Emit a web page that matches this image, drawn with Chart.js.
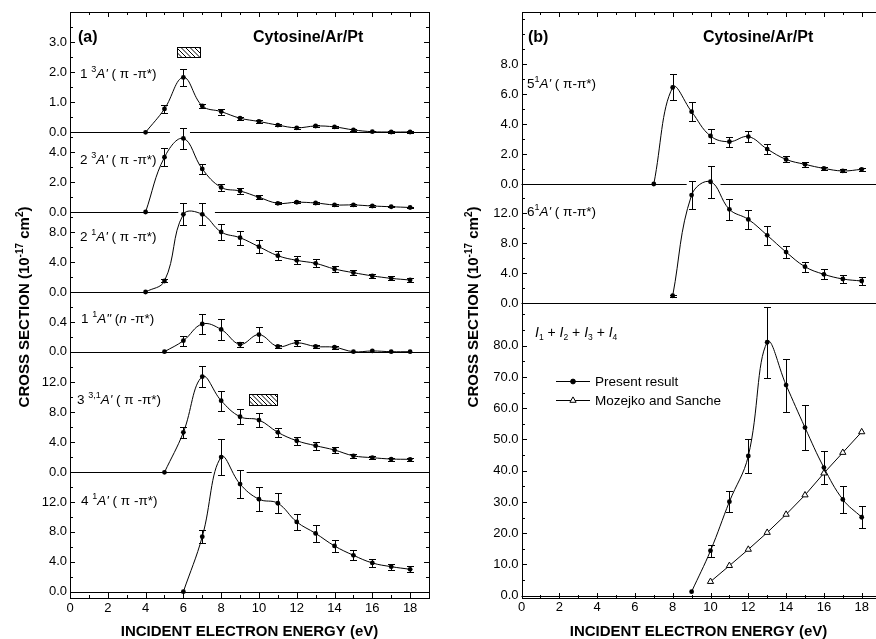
<!DOCTYPE html>
<html>
<head>
<meta charset="utf-8">
<script src="https://cdn.jsdelivr.net/npm/chart.js@4.4.0/dist/chart.umd.min.js"></script>
<style>
html, body { margin: 0; padding: 0; background: #fff; overflow: hidden; }
#wrap { position: relative; width: 876px; height: 639px; overflow: hidden; background: #fff; }
#wrap canvas { position: absolute; top: 0; }
</style>
</head>
<body>
<div id="wrap">
  <canvas id="chartA" width="440" height="639" style="left:0"></canvas>
  <canvas id="chartB" width="450" height="639" style="left:440px"></canvas>
</div>
<script>
// x axis labels (eV)
const xTicks = [0, 2, 4, 6, 8, 10, 12, 14, 16, 18];

// ---- (a) ----
// 1 3A' (pi-pi*)
const energy13A = [4, 5, 6, 7, 8, 9, 10, 11, 12, 13, 14, 15, 16, 17, 18];
const cs13A  = [0, 0.78, 1.83, 0.88, 0.69, 0.47, 0.36, 0.24, 0.15, 0.21, 0.18, 0.08, 0.02, 0.01, 0.01];
const err13A = [0, 0.14, 0.28, 0.07, 0.10, 0.05, 0.04, 0.04, 0.03, 0.04, 0.03, 0.03, 0.02, 0.02, 0.02];
const ticks13A = [0, 1, 2, 3];

// 2 3A' (pi-pi*)
const energy23A = [4, 5, 6, 7, 8, 9, 10, 11, 12, 13, 14, 15, 16, 17, 18];
const cs23A  = [0, 3.65, 4.9, 2.87, 1.64, 1.4, 0.98, 0.58, 0.65, 0.6, 0.47, 0.47, 0.4, 0.35, 0.3];
const err23A = [0, 0.6, 0.71, 0.32, 0.24, 0.2, 0.12, 0.06, 0.06, 0.06, 0.05, 0.05, 0.05, 0.05, 0.05];
const ticks23A = [0, 2, 4];

// 2 1A' (pi-pi*)
const energy21A = [4, 5, 6, 7, 8, 9, 10, 11, 12, 13, 14, 15, 16, 17, 18];
const cs21A  = [0, 1.47, 10.36, 10.36, 8.0, 7.24, 6.04, 4.84, 4.22, 3.82, 3.07, 2.58, 2.15, 1.82, 1.6];
const err21A = [0, 0.2, 1.45, 1.45, 1.1, 0.96, 0.9, 0.58, 0.53, 0.53, 0.4, 0.3, 0.3, 0.25, 0.25];
const ticks21A = [0, 4, 8];

// 1 1A" (n-pi*)
const energy11A = [5, 6, 7, 8, 9, 10, 11, 12, 13, 14, 15, 16, 17, 18];
const cs11A  = [0, 0.148, 0.373, 0.30, 0.10, 0.23, 0.07, 0.12, 0.07, 0.06, 0.0, 0.01, 0.0, 0.0];
const err11A = [0, 0.07, 0.14, 0.14, 0.03, 0.1, 0.02, 0.04, 0.02, 0.02, 0, 0, 0, 0];
const ticks11A = [0, 0.4];

// 3 3,1A' (pi-pi*)
const energy331A = [5, 6, 7, 8, 9, 10, 11, 12, 13, 14, 15, 16, 17, 18];
const cs331A  = [0, 5.33, 12.75, 9.55, 7.41, 6.97, 5.33, 4.21, 3.55, 2.97, 2.2, 1.95, 1.77, 1.73];
const err331A = [0, 0.73, 1.44, 1.33, 1.0, 0.96, 0.6, 0.53, 0.53, 0.35, 0.25, 0.2, 0.2, 0.2];
const ticks331A = [0, 4, 8, 12];

// 4 1A' (pi-pi*)
const energy41A = [6, 7, 8, 9, 10, 11, 12, 13, 14, 15, 16, 17, 18];
const cs41A  = [0, 7.36, 18.0, 14.4, 12.37, 11.83, 9.33, 7.8, 6.12, 4.87, 3.85, 3.35, 3.0];
const err41A = [0, 0.83, 2.45, 1.9, 1.6, 1.34, 1.1, 1.1, 0.8, 0.65, 0.5, 0.4, 0.4];
const ticks41A = [0, 4, 8, 12];

// ---- (b) ----
// 5 1A' (pi-pi*)
const energy51A = [7, 8, 9, 10, 11, 12, 13, 14, 15, 16, 17, 18];
const cs51A  = [0, 6.44, 4.82, 3.2, 2.82, 3.16, 2.33, 1.64, 1.31, 1.04, 0.87, 0.98];
const err51A = [0, 0.87, 0.63, 0.44, 0.33, 0.37, 0.33, 0.2, 0.15, 0.12, 0.1, 0.1];
const ticks51A = [0, 2, 4, 6, 8];

// 6 1A' (pi-pi*)
const energy61A = [8, 9, 10, 11, 12, 13, 14, 15, 16, 17, 18];
const cs61A  = [1.0, 14.38, 16.15, 12.48, 11.15, 9.03, 6.81, 4.86, 3.85, 3.23, 2.96];
const err61A = [0.15, 1.88, 2.15, 1.37, 1.28, 1.26, 0.84, 0.66, 0.66, 0.5, 0.5];
const ticks61A = [0, 4, 8, 12];

// I1 + I2 + I3 + I4
const energySum = [9, 10, 11, 12, 13, 14, 15, 16, 17, 18];
const csSum  = [1.28, 14.4, 30.1, 44.7, 81.1, 67.4, 53.8, 41.0, 30.8, 25.1];
const errSum = [0, 1.87, 3.47, 5.3, 11.4, 8.5, 7.2, 5.3, 4.3, 3.5];
const energyMS = [10, 11, 12, 13, 14, 15, 16, 17, 18];
const csMS = [4.5, 9.6, 14.8, 20.2, 26.0, 32.2, 39.2, 45.8, 52.4];
const ticksSum = [0, 10, 20, 30, 40, 50, 60, 70, 80];

// hatched energy markers (eV, cross section)
const hatchX13A = [5.68, 6.88], hatchY13A = [2.5, 2.85];
const hatchX331A = [9.49, 10.93], hatchY331A = [8.97, 10.4];

const FONT = '"Liberation Sans", Arial, Helvetica, sans-serif';
const F = (size, style) => (style ? style + ' ' : '') + size + 'px ' + FONT;
Chart.defaults.font.family = FONT;
Chart.defaults.color = '#000';

// panel layout: axis range, stack weight, gaps in the zero line
const panelsA = [
  { id: 'p1', energy: energy13A, cs: cs13A, err: err13A, ticks: ticks13A, min: 0, max: 4.0, weight: 120, gaps: [[5.29, 6.35]] },
  { id: 'p2', energy: energy23A, cs: cs23A, err: err23A, ticks: ticks23A, min: 0, max: 5.31, weight: 79.7, gaps: [[5.73, 7.67]] },
  { id: 'p3', energy: energy21A, cs: cs21A, err: err21A, ticks: ticks21A, min: 0, max: 10.67, weight: 80 },
  { id: 'p4', energy: energy11A, cs: cs11A, err: err11A, ticks: ticks11A, min: 0, max: 0.804, weight: 59.7 },
  { id: 'p5', energy: energy331A, cs: cs331A, err: err331A, ticks: ticks331A, min: 0, max: 16.08, weight: 120.6, gaps: [[7.5, 9.35]] },
  { id: 'p6', energy: energy41A, cs: cs41A, err: err41A, ticks: ticks41A, min: -0.88, max: 15.97, weight: 126 }
];
const panelsB = [
  { id: 'q1', energy: energy51A, cs: cs51A, err: err51A, ticks: ticks51A, min: 0, max: 11.45, weight: 171.7, gaps: [[8.74, 10.53]] },
  { id: 'q2', energy: energy61A, cs: cs61A, err: err61A, ticks: ticks61A, min: 0, max: 15.85, weight: 119.3 },
  { id: 'q3', energy: energySum, cs: csSum, err: errSum, ticks: ticksSum, min: -0.58, max: 93.57, weight: 294.2 }
];

function snap(v) { return Math.round(v) + 0.5; }

function runsWidth(ctx, runs) {
  let w = 0;
  runs.forEach(r => { ctx.font = r.font; w += ctx.measureText(r.t).width; });
  return w;
}

function drawRuns(ctx, item) {
  ctx.save();
  ctx.translate(item.x, item.y);
  if (item.rot) ctx.rotate(-Math.PI / 2);
  let x = item.align === 'center' ? -runsWidth(ctx, item.runs) / 2 : 0;
  ctx.fillStyle = '#000';
  ctx.textAlign = 'left';
  ctx.textBaseline = 'alphabetic';
  item.runs.forEach(r => {
    ctx.font = r.font;
    ctx.fillText(r.t, x, r.dy || 0);
    x += ctx.measureText(r.t).width;
  });
  ctx.restore();
}

function stateRuns(num, sup, letter, tail) {
  return [
    { t: num, font: F(13.5) },
    { t: sup, font: F(9), dy: -6 },
    { t: letter, font: F(13.5, 'italic') }
  ].concat(tail);
}
const pipi = [{ t: " ( \u03C0 -\u03C0*)", font: F(13.5) }];
const pipiB = [{ t: " ( \u03C0-\u03C0*)", font: F(13.5) }];

function decoPlugin(panels, extras) {
  return {
    id: 'deco',
    beforeDatasetsDraw(chart) {
      const { ctx, scales } = chart;
      const xs = scales.x;
      ctx.save();
      ctx.strokeStyle = '#000';
      ctx.lineWidth = 1;
      panels.forEach(p => {
        const ys = scales[p.id];
        const y0 = snap(ys.getPixelForValue(0));
        const segs = [];
        let start = xs.min;
        (p.gaps || []).forEach(g => { segs.push([start, g[0]]); start = g[1]; });
        segs.push([start, xs.max]);
        ctx.beginPath();
        segs.forEach(s => {
          ctx.moveTo(xs.getPixelForValue(s[0]), y0);
          ctx.lineTo(xs.getPixelForValue(s[1]), y0);
        });
        ctx.stroke();
        // error bars
        ctx.beginPath();
        p.energy.forEach((e, i) => {
          const d = p.err[i];
          if (!d) return;
          const px = snap(xs.getPixelForValue(e));
          const t = snap(ys.getPixelForValue(p.cs[i] + d));
          const b = snap(ys.getPixelForValue(p.cs[i] - d));
          ctx.moveTo(px, t); ctx.lineTo(px, b);
          ctx.moveTo(px - 3.5, t); ctx.lineTo(px + 3.5, t);
          ctx.moveTo(px - 3.5, b); ctx.lineTo(px + 3.5, b);
        });
        ctx.stroke();
      });
      ctx.restore();
    },
    afterDatasetsDraw(chart) {
      const { ctx, scales, chartArea: a } = chart;
      const xs = scales.x;
      ctx.save();
      ctx.strokeStyle = '#000';
      ctx.lineWidth = 1;
      // frame
      const L = Math.round(a.left), R = Math.round(a.right), T = Math.round(a.top), B = Math.round(a.bottom);
      ctx.strokeRect(L + 0.5, T + 0.5, R - L, B - T);
      // inward ticks
      ctx.beginPath();
      for (let v = Math.ceil(xs.min); v <= xs.max; v++) {
        const px = snap(xs.getPixelForValue(v));
        const len = v % 2 ? 3 : 5;
        ctx.moveTo(px, B); ctx.lineTo(px, B - len);
        ctx.moveTo(px, T); ctx.lineTo(px, T + len);
      }
      panels.forEach(p => {
        const ys = scales[p.id];
        const step = (p.ticks[1] - p.ticks[0]) / 2;
        for (let k = Math.ceil(p.min / step - 1e-9); k * step <= p.max + 1e-9; k++) {
          const v = k * step;
          const major = p.ticks.some(t => Math.abs(t - v) < 1e-9);
          const py = snap(ys.getPixelForValue(v));
          const len = major ? 5 : 3;
          ctx.moveTo(L, py); ctx.lineTo(L + len, py);
          ctx.moveTo(R, py); ctx.lineTo(R - len, py);
        }
      });
      ctx.stroke();
      // hatched boxes
      (extras.hatches || []).forEach(h => {
        const ys = scales[h.axis];
        const x0 = Math.round(xs.getPixelForValue(h.x[0])) + 0.5;
        const x1 = Math.round(xs.getPixelForValue(h.x[1])) + 0.5;
        const y0 = Math.round(ys.getPixelForValue(h.y[1])) + 0.5;
        const y1 = Math.round(ys.getPixelForValue(h.y[0])) + 0.5;
        const hgt = y1 - y0;
        ctx.save();
        ctx.beginPath();
        ctx.rect(x0, y0, x1 - x0, hgt);
        ctx.clip();
        ctx.beginPath();
        for (let s = x0 - hgt; s < x1; s += 4.5) {
          ctx.moveTo(s, y0); ctx.lineTo(s + hgt, y1);
        }
        ctx.stroke();
        ctx.restore();
        ctx.strokeRect(x0, y0, x1 - x0, hgt);
      });
      ctx.restore();
    },
    afterDraw(chart) {
      const ctx = chart.ctx;
      (extras.texts || []).forEach(item => drawRuns(ctx, item));
      (extras.legend || []).forEach(it => {
        ctx.save();
        ctx.strokeStyle = '#000';
        ctx.lineWidth = 1;
        ctx.beginPath();
        ctx.moveTo(it.x0, it.y + 0.5); ctx.lineTo(it.x1, it.y + 0.5);
        ctx.stroke();
        ctx.fillStyle = it.fill;
        Chart.helpers.drawPoint(ctx, { pointStyle: it.style, radius: it.radius, borderWidth: 1, rotation: 0 }, (it.x0 + it.x1) / 2, it.y + 0.5);
        ctx.fillStyle = '#000';
        ctx.font = F(13.5);
        ctx.textBaseline = 'alphabetic';
        ctx.fillText(it.label, it.x1 + 5, it.y + 5);
        ctx.restore();
      });
    }
  };
}

function lineSet(p) {
  return {
    label: p.id,
    data: p.energy.map((e, i) => ({ x: e, y: p.cs[i] })),
    yAxisID: p.id,
    borderColor: '#000',
    borderWidth: 1,
    pointRadius: 2.4,
    pointBorderWidth: 0,
    pointBackgroundColor: '#000',
    tension: 0.4,
    fill: false,
    clip: false
  };
}

function makeChart(canvasId, panels, moreSets, geo, extras) {
  const scales = {
    x: {
      type: 'linear', min: 0, max: 19,
      grid: { display: false, drawTicks: false },
      border: { display: false },
      afterBuildTicks: s => { s.ticks = xTicks.map(v => ({ value: v })); },
      afterFit: s => { s.height = geo.xHeight; },
      ticks: { padding: 2.5, autoSkip: false, maxRotation: 0, font: { size: 13 }, color: '#000', callback: v => String(v) }
    }
  };
  // the last defined stacked axis sits on top
  panels.slice().reverse().forEach(p => {
    scales[p.id] = {
      type: 'linear', position: 'left', stack: 'cs', stackWeight: p.weight,
      min: p.min, max: p.max,
      grid: { display: false, drawTicks: false },
      border: { display: false },
      afterBuildTicks: s => { s.ticks = p.ticks.map(v => ({ value: v })); },
      afterFit: s => { s.width = geo.yWidth; },
      ticks: { padding: 3, autoSkip: false, font: { size: 13 }, color: '#000', callback: v => Number(v).toFixed(1) }
    };
  });
  return new Chart(document.getElementById(canvasId), {
    type: 'line',
    data: { datasets: panels.map(lineSet).concat(moreSets) },
    options: {
      responsive: false,
      animation: false,
      events: [],
      layout: { padding: geo.padding },
      plugins: { legend: { display: false }, tooltip: { enabled: false } },
      scales
    },
    plugins: [decoPlugin(panels, extras)]
  });
}

const yTitleRuns = [
  { t: 'CROSS SECTION (10', font: F(15, 'bold') },
  { t: '-17', font: F(10, 'bold'), dy: -6 },
  { t: ' cm', font: F(15, 'bold') },
  { t: '2', font: F(10, 'bold'), dy: -6 },
  { t: ')', font: F(15, 'bold') }
];
const xTitleRuns = [{ t: 'INCIDENT ELECTRON ENERGY (eV)', font: F(15, 'bold') }];

makeChart('chartA', panelsA, [], {
  xHeight: 40.7, yWidth: 70,
  padding: { left: 0, right: 11, top: 12.3, bottom: 0 }
}, {
  hatches: [
    { axis: 'p1', x: hatchX13A, y: hatchY13A },
    { axis: 'p5', x: hatchX331A, y: hatchY331A }
  ],
  texts: [
    { x: 78, y: 41.5, runs: [{ t: '(a)', font: F(16, 'bold') }] },
    { x: 253, y: 41.5, runs: [{ t: 'Cytosine/Ar/Pt', font: F(16, 'bold') }] },
    { x: 80, y: 78, runs: stateRuns('1 ', '3', "A'", pipi) },
    { x: 80, y: 164, runs: stateRuns('2 ', '3', "A'", pipi) },
    { x: 80, y: 241, runs: stateRuns('2 ', '1', "A'", pipi) },
    { x: 81, y: 323, runs: stateRuns('1 ', '1', 'A"', [
      { t: ' (', font: F(13.5) }, { t: 'n', font: F(13.5, 'italic') }, { t: ' -\u03C0*)', font: F(13.5) }]) },
    { x: 77, y: 404, runs: stateRuns('3 ', '3,1', "A'", pipi) },
    { x: 81, y: 505, runs: stateRuns('4 ', '1', "A'", pipi) },
    { x: 29, y: 307, rot: true, align: 'center', runs: yTitleRuns },
    { x: 249.5, y: 635.5, align: 'center', runs: xTitleRuns }
  ]
});

const msSet = {
  label: 'Mozejko and Sanche',
  data: energyMS.map((e, i) => ({ x: e, y: csMS[i] })),
  yAxisID: 'q3',
  borderColor: '#000',
  borderWidth: 1,
  pointStyle: 'triangle',
  pointRadius: 3.6,
  pointBorderWidth: 1,
  pointBorderColor: '#000',
  pointBackgroundColor: '#fff',
  tension: 0,
  fill: false,
  clip: false
};

makeChart('chartB', panelsB, [msSet], {
  xHeight: 41.5, yWidth: 81.5,
  padding: { left: 0, right: 9.4, top: 12.3, bottom: 0 }
}, {
  texts: [
    { x: 88, y: 41.5, runs: [{ t: '(b)', font: F(16, 'bold') }] },
    { x: 263, y: 41.5, runs: [{ t: 'Cytosine/Ar/Pt', font: F(16, 'bold') }] },
    { x: 87, y: 88, runs: stateRuns('5', '1', "A'", pipiB) },
    { x: 87, y: 216, runs: stateRuns('6', '1', "A'", pipiB) },
    { x: 95, y: 337, runs: [
      { t: 'I', font: F(14, 'italic') }, { t: '1', font: F(8.5), dy: 3 }, { t: ' + ', font: F(14) },
      { t: 'I', font: F(14, 'italic') }, { t: '2', font: F(8.5), dy: 3 }, { t: ' + ', font: F(14) },
      { t: 'I', font: F(14, 'italic') }, { t: '3', font: F(8.5), dy: 3 }, { t: ' + ', font: F(14) },
      { t: 'I', font: F(14, 'italic') }, { t: '4', font: F(8.5), dy: 3 }] },
    { x: 37.5, y: 307, rot: true, align: 'center', runs: yTitleRuns },
    { x: 258.5, y: 635.5, align: 'center', runs: xTitleRuns }
  ],
  legend: [
    { label: 'Present result', style: 'circle', radius: 2.4, fill: '#000', x0: 116, x1: 150, y: 381 },
    { label: 'Mozejko and Sanche', style: 'triangle', radius: 3.6, fill: '#fff', x0: 116, x1: 150, y: 400 }
  ]
});
</script>
</body>
</html>
